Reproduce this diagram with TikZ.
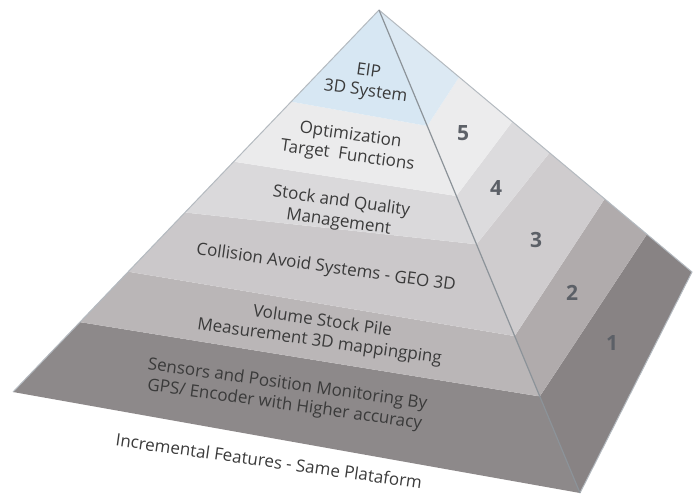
\documentclass[tikz,border=0pt]{standalone}
\usepackage{fontspec}
\setmainfont{Open Sans}
\usetikzlibrary{calc}
\definecolor{frontA}{HTML}{8D898A}
\definecolor{frontB}{HTML}{BAB6B7}
\definecolor{frontC}{HTML}{CBC8CA}
\definecolor{frontD}{HTML}{DAD9DB}
\definecolor{frontE}{HTML}{EBEBEC}
\definecolor{frontF}{HTML}{D7E7F3}
\definecolor{sideA}{HTML}{888384}
\definecolor{sideB}{HTML}{B0ABAC}
\definecolor{sideC}{HTML}{CFCCCE}
\definecolor{sideD}{HTML}{DCDBDD}
\definecolor{sideE}{HTML}{ECECED}
\definecolor{sideF}{HTML}{DCE9F3}
\definecolor{edgegray}{HTML}{B4BAC0}
\definecolor{ridgegray}{HTML}{8C9399}
\definecolor{txtgray}{HTML}{3A3A3A}
\definecolor{numgray}{HTML}{5C6067}
\begin{document}
\begin{tikzpicture}[x=1pt,y=-1pt,
		bandtext/.style={align=center,inner sep=0pt,rotate=-8,text=txtgray,font=\fontsize{17}{20.5}\selectfont},
		levelnum/.style={inner sep=0pt,text=numgray,font=\fontsize{21}{24}\selectfont\bfseries}]
	\useasboundingbox (0,0) rectangle (698,496);
	% corners of the pyramid
	\coordinate (apex) at (379,10);
	\coordinate (left) at (13,392);
	\coordinate (front) at (580,493);
	\coordinate (right) at (692,272);
	% band borders on the left edge
	\coordinate (l1) at ($(apex)!0.817!(left)$);
	\coordinate (l2) at ($(apex)!0.685!(left)$);
	\coordinate (l3) at ($(apex)!0.53!(left)$);
	\coordinate (l4) at ($(apex)!0.397!(left)$);
	\coordinate (l5) at ($(apex)!0.24!(left)$);
	% band borders on the front ridge
	\coordinate (m1) at ($(apex)!0.8!(front)$);
	\coordinate (m2) at ($(apex)!0.675!(front)$);
	\coordinate (m3) at ($(apex)!0.485!(front)$);
	\coordinate (m4) at ($(apex)!0.385!(front)$);
	\coordinate (m5) at ($(apex)!0.24!(front)$);
	% band borders on the right edge
	\coordinate (r1) at ($(apex)!0.856!(right)$);
	\coordinate (r2) at ($(apex)!0.721!(right)$);
	\coordinate (r3) at ($(apex)!0.545!(right)$);
	\coordinate (r4) at ($(apex)!0.426!(right)$);
	\coordinate (r5) at ($(apex)!0.256!(right)$);

	% front face
	\fill[frontA] (left) -- (front) -- (m1) -- (l1) -- cycle;
	\fill[frontB] (l1) -- (m1) -- (m2) -- (l2) -- cycle;
	\fill[frontC] (l2) -- (m2) -- (m3) -- (l3) -- cycle;
	\fill[frontD] (l3) -- (m3) -- (m4) -- (l4) -- cycle;
	\fill[frontE] (l4) -- (m4) -- (m5) -- (l5) -- cycle;
	\fill[frontF] (l5) -- (m5) -- (apex) -- cycle;
	% right face
	\fill[sideA] (front) -- (right) -- (r1) -- (m1) -- cycle;
	\fill[sideB] (m1) -- (r1) -- (r2) -- (m2) -- cycle;
	\fill[sideC] (m2) -- (r2) -- (r3) -- (m3) -- cycle;
	\fill[sideD] (m3) -- (r3) -- (r4) -- (m4) -- cycle;
	\fill[sideE] (m4) -- (r4) -- (r5) -- (m5) -- cycle;
	\fill[sideF] (m5) -- (r5) -- (apex) -- cycle;
	% edges
	\draw[edgegray,line width=1] (left) -- (apex) -- (right) -- (front);
	\draw[ridgegray,line width=1.2] (apex) -- (front);

	\node[bandtext] (eip) at (367,82) {EIP\\3D System};
	\node[bandtext] (optim) at (349,146) {Optimization\\Target\ \ Functions};
	\node[bandtext] (stock) at (340,212) {Stock and Quality\\Management};
	\node[bandtext] (collision) at (326,268) {Collision Avoid Systems - GEO 3D};
	\node[bandtext] (volume) at (321,332) {Volume Stock Pile\\Measurement 3D mappingping};
	\node[bandtext] (sensors) at (286,395) {Sensors and Position Monitoring By\\GPS/ Encoder with Higher accuracy};
	\node[bandtext] (base) at (269,461) {Incremental Features - Same Plataform};

	\node[levelnum] (n5) at (463,133) {5};
	\node[levelnum] (n4) at (496,188) {4};
	\node[levelnum] (n3) at (536,240) {3};
	\node[levelnum] (n2) at (572,293) {2};
	\node[levelnum] (n1) at (612,343) {1};
\end{tikzpicture}
\end{document}
